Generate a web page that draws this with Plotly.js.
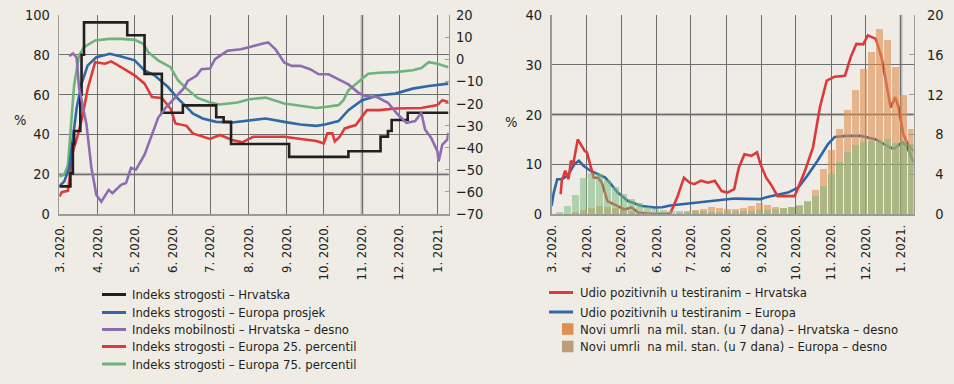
<!DOCTYPE html>
<html>
<head>
<meta charset="utf-8">
<script src="https://cdn.plot.ly/plotly-3.0.1.min.js"></script>
<style>html,body{margin:0;padding:0;background:#efece6;}#chart{width:954px;height:384px;}</style>
</head>
<body>
<div id="chart"></div>
<script>
// ---------- DATA ----------
const monthTicks = ['2020-03-01','2020-04-01','2020-05-01','2020-06-01','2020-07-01','2020-08-01','2020-09-01','2020-10-01','2020-11-01','2020-12-01','2021-01-01'];
const monthLabels = ['3. 2020.','4. 2020.','5. 2020.','6. 2020.','7. 2020.','8. 2020.','9. 2020.','10. 2020.','11. 2020.','12. 2020.','1. 2021.'];
const rightTickVals = [0, 4, 8, 12, 16, 20];
const rightTickText = ['\u20070', '\u20074', '\u20078', '12', '16', '20'];

// Left panel
const hrStrDates = ['2020-03-01','2020-03-08','2020-03-10','2020-03-12','2020-03-13','2020-03-17','2020-03-18','2020-03-19','2020-03-21','2020-04-25','2020-05-09','2020-05-23','2020-06-09','2020-07-06','2020-07-12','2020-07-18','2020-09-03','2020-10-21','2020-11-16','2020-11-22','2020-11-25','2020-12-08','2021-01-10'];
const hrStr = [13.9,13.9,20.4,35.2,41.7,41.7,60,80,96.3,89.8,70.4,50.9,54.6,48.6,46.3,35.2,28.7,31.5,38.9,41.7,47.2,50.9,50.9];

const euAvgDates = ['2020-03-01','2020-03-05','2020-03-09','2020-03-12','2020-03-15','2020-03-19','2020-03-24','2020-03-31','2020-04-11','2020-04-20','2020-05-01','2020-05-09','2020-05-17','2020-05-28','2020-06-05','2020-06-12','2020-06-17','2020-06-25','2020-07-06','2020-07-19','2020-07-27','2020-08-15','2020-08-30','2020-09-12','2020-09-25','2020-10-02','2020-10-13','2020-10-21','2020-11-01','2020-11-15','2020-11-28','2020-12-12','2020-12-25','2021-01-10'];
const euAvg = [14,16.3,23,38,53,65.5,74.7,78.8,80.5,79.2,77.2,72.2,69.7,63.8,58,53.8,50.5,48,46.3,46,46.7,48,46.3,45,44.3,45,46.7,52.2,57.2,59.7,60.5,63,64.3,65.5];

const mobDates = ['2020-03-09','2020-03-12','2020-03-15','2020-03-17','2020-03-23','2020-03-27','2020-03-31','2020-04-04','2020-04-10','2020-04-13','2020-04-20','2020-04-24','2020-04-28','2020-05-02','2020-05-09','2020-05-15','2020-05-20','2020-05-26','2020-06-03','2020-06-10','2020-06-13','2020-06-20','2020-06-24','2020-07-01','2020-07-05','2020-07-15','2020-07-26','2020-08-02','2020-08-13','2020-08-17','2020-08-23','2020-08-30','2020-09-05','2020-09-12','2020-09-20','2020-09-27','2020-10-05','2020-10-13','2020-10-21','2020-10-29','2020-11-03','2020-11-13','2020-11-22','2020-11-30','2020-12-07','2020-12-14','2020-12-19','2020-12-22','2020-12-27','2021-01-01','2021-01-02','2021-01-05','2021-01-09','2021-01-10'];
const mob = [1.4,2.6,0.8,-12.9,-29.5,-49.2,-61.4,-64.4,-59.1,-60.6,-56.8,-56,-49.2,-50,-43.2,-34.1,-26.5,-22,-17.4,-13,-9.8,-7.5,-4.5,-4.2,0,3.8,4.5,5.6,7.1,7.6,4.5,-1.5,-3,-3,-4.5,-6.8,-6.8,-9.1,-11.4,-15.1,-16.6,-17.1,-19.7,-25,-28.8,-28,-24.2,-31.8,-35.6,-41.6,-46.2,-38.6,-36.4,-33.3];

const eu25Dates = ['2020-03-01','2020-03-03','2020-03-08','2020-03-12','2020-03-16','2020-03-20','2020-03-24','2020-03-30','2020-04-07','2020-04-12','2020-04-20','2020-05-01','2020-05-09','2020-05-15','2020-05-23','2020-05-30','2020-06-03','2020-06-12','2020-06-17','2020-06-25','2020-07-01','2020-07-09','2020-07-19','2020-07-27','2020-08-05','2020-08-30','2020-09-12','2020-09-25','2020-10-01','2020-10-04','2020-10-08','2020-10-10','2020-10-14','2020-10-18','2020-10-27','2020-11-01','2020-11-05','2020-11-15','2020-11-28','2020-12-19','2021-01-01','2021-01-05','2021-01-10'];
const eu25 = [8.8,11,11.7,31.3,39.7,49.7,63,76.3,75.5,76.7,73.8,69.7,65.5,58.8,58.3,53,45.5,44.3,40.5,38.8,37.7,39.7,37.2,36,38.8,38.8,37.7,36.7,35.5,40.5,40.5,36.5,38.8,43,44.7,48.8,52.2,52.2,53,53.3,54.7,57.2,56.3];

const eu75Dates = ['2020-03-01','2020-03-05','2020-03-08','2020-03-11','2020-03-13','2020-03-17','2020-03-21','2020-03-30','2020-04-10','2020-04-20','2020-05-01','2020-05-08','2020-05-12','2020-05-20','2020-05-30','2020-06-05','2020-06-12','2020-06-21','2020-07-01','2020-07-09','2020-07-23','2020-08-02','2020-08-15','2020-08-30','2020-09-12','2020-09-25','2020-10-02','2020-10-13','2020-10-17','2020-10-21','2020-10-29','2020-11-06','2020-11-15','2020-11-28','2020-12-12','2020-12-19','2020-12-25','2021-01-01','2021-01-10'];
const eu75 = [18.8,19.7,24.7,48,64.7,79.7,83.8,87.2,88,88,87.5,85.5,81.3,77.2,73.8,67.2,63,58.3,56,55,56,57.7,58.5,55.5,54.3,53.3,53.8,54.7,57.2,62.2,66.3,70.5,71,71.3,72.2,73.3,76.3,75.5,73.8];

// Right panel
const hrPosDates = ['2020-03-09','2020-03-10','2020-03-13','2020-03-16','2020-03-18','2020-03-20','2020-03-24','2020-03-27','2020-03-30','2020-04-01','2020-04-04','2020-04-07','2020-04-11','2020-04-14','2020-04-19','2020-04-25','2020-05-04','2020-05-10','2020-05-16','2020-05-30','2020-06-13','2020-06-19','2020-06-25','2020-06-30','2020-07-04','2020-07-10','2020-07-16','2020-07-22','2020-07-28','2020-08-02','2020-08-08','2020-08-12','2020-08-17','2020-08-23','2020-08-28','2020-08-31','2020-09-05','2020-09-09','2020-09-15','2020-09-30','2020-10-09','2020-10-16','2020-10-22','2020-10-28','2020-11-04','2020-11-13','2020-11-18','2020-11-23','2020-11-29','2020-12-03','2020-12-10','2020-12-15','2020-12-20','2020-12-23','2020-12-27','2020-12-30','2021-01-03','2021-01-07','2021-01-12'];
const hrPos = [4,6.7,8.7,7,10.7,10,15,13.7,12.7,12.4,9.7,7.3,7.3,6.3,2.6,1.9,0.9,1.3,0.3,0,0.1,3.3,7.3,6.3,6,6.7,6.3,6.7,4.6,4.3,5,9.3,12,11.7,12.4,10,7.3,6,3.6,3.6,8.7,13.4,21.4,26.8,27.6,27.8,31.5,34.2,34.1,35.9,35.2,31.5,25.5,21.4,23.5,21.4,16.1,14,12.7];

const euPosDates = ['2020-03-01','2020-03-03','2020-03-06','2020-03-10','2020-03-15','2020-03-21','2020-03-25','2020-03-29','2020-04-04','2020-04-10','2020-04-17','2020-04-22','2020-04-28','2020-05-07','2020-05-19','2020-05-30','2020-06-06','2020-06-13','2020-07-10','2020-08-08','2020-08-31','2020-09-06','2020-09-24','2020-10-03','2020-10-11','2020-10-20','2020-10-29','2020-11-04','2020-11-14','2020-11-27','2020-12-10','2020-12-22','2020-12-26','2021-01-02','2021-01-06','2021-01-12'];
const euPos = [1.6,4.3,7,7,7.7,10,10.7,9.7,8.7,8,7.3,6,4.3,2.6,1.6,1.3,1.35,1.7,2.4,3.1,3,3.4,4.3,5.3,7.7,10.7,14,15.5,15.7,15.7,15,13.4,13.1,14.4,13.7,10.4];

const deathWeeks = ['2020-03-01','2020-03-08','2020-03-15','2020-03-22','2020-03-29','2020-04-05','2020-04-12','2020-04-19','2020-04-26','2020-05-03','2020-05-10','2020-05-17','2020-05-24','2020-05-31','2020-06-07','2020-06-14','2020-06-21','2020-06-28','2020-07-05','2020-07-12','2020-07-19','2020-07-26','2020-08-02','2020-08-09','2020-08-16','2020-08-23','2020-08-30','2020-09-06','2020-09-13','2020-09-20','2020-09-27','2020-10-04','2020-10-11','2020-10-18','2020-10-25','2020-11-01','2020-11-08','2020-11-15','2020-11-22','2020-11-29','2020-12-06','2020-12-13','2020-12-20','2020-12-27','2021-01-03','2021-01-10'];
const hrDeaths = [0,0,0.05,0.2,0.4,0.6,0.8,0.7,0.6,0.4,0.3,0.15,0.1,0.05,0,0.05,0.1,0.2,0.4,0.5,0.7,0.6,0.5,0.5,0.6,0.8,1.1,0.9,0.7,0.6,0.7,0.8,1.3,2.4,4.5,6.4,8.5,10.5,12.5,14.6,16.3,18.6,17.5,14.8,12.0,8.5];
const euDeaths = [0.05,0.2,0.8,1.9,3.6,4.1,4.0,3.4,2.7,2.0,1.5,1.1,0.7,0.5,0.4,0.35,0.3,0.3,0.3,0.3,0.25,0.25,0.3,0.3,0.3,0.35,0.4,0.45,0.5,0.6,0.7,0.9,1.2,1.8,2.8,4.0,5.2,6.2,6.9,7.2,7.3,7.3,7.5,7.1,7.3,7.0];

const leftNames = ['Indeks strogosti – Hrvatska','Indeks strogosti – Europa prosjek','Indeks mobilnosti – Hrvatska – desno','Indeks strogosti – Europa 25. percentil','Indeks strogosti – Europa 75. percentil'];
const rightNames = ['Udio pozitivnih u testiranim – Hrvatska','Udio pozitivnih u testiranim – Europa','Novi umrli  na mil. stan. (u 7 dana) – Hrvatska – desno','Novi umrli  na mil. stan. (u 7 dana) – Europa – desno'];

// ---------- STYLE ----------
const FONT = '"Liberation Sans Narrow", "Arial Narrow", "DejaVu Sans Condensed", sans-serif';
const TXT = '#231f20';
const BG = '#efece6';
const GRID = '#6e6e6e';
const LIGHT = '#b8b6b2';
const AXL = '#9c9a96';
const cBlack = '#231f20', cBlue = '#2f68a3', cPurple = '#8d6cb0', cRed = '#dd3b3b', cGreen = '#6db37b';
const cOrange = '#de9050', cEuBar = '#7fbb80', cEuLeg = '#bc9c7c';
const W = 954, H = 384;
const px = v => v / W, py = v => 1 - v / H;

const line = (x, y, color, xa, ya, extra) => Object.assign({
  type: 'scatter', mode: 'lines', x: x, y: y, xaxis: xa, yaxis: ya,
  line: {color: color, width: 2.6}, showlegend: false, hoverinfo: 'skip'
}, extra || {});

const WEEK = 6.2 * 86400000;
const traces = [
  {type: 'bar', x: deathWeeks, y: hrDeaths, xaxis: 'x2', yaxis: 'y4', width: WEEK, marker: {color: cOrange, line: {width: 0}}, opacity: 0.6, showlegend: false, hoverinfo: 'skip'},
  {type: 'bar', x: deathWeeks, y: euDeaths, xaxis: 'x2', yaxis: 'y4', width: WEEK, marker: {color: cEuBar, line: {width: 0}}, opacity: 0.55, showlegend: false, hoverinfo: 'skip'},
  line(euPosDates, euPos, cBlue, 'x2', 'y3'),
  line(hrPosDates, hrPos, cRed, 'x2', 'y3'),
  line(eu75Dates, eu75, cGreen, 'x', 'y'),
  line(eu25Dates, eu25, cRed, 'x', 'y'),
  line(euAvgDates, euAvg, cBlue, 'x', 'y'),
  line(mobDates, mob, cPurple, 'x', 'y2'),
  line(hrStrDates, hrStr, cBlack, 'x', 'y', {line: {color: cBlack, width: 2.6, shape: 'hv'}})
];

const yDom = [1 - 214 / H, 1 - 15 / H];
const tickFont = {family: FONT, size: 14.5, color: TXT};
const xTickFont = {family: FONT, size: 13, color: TXT};
const legFont = {family: FONT, size: 13, color: TXT};
const xCommon = {
  type: 'date', tickvals: monthTicks, ticktext: monthLabels, tickangle: -90,
  showgrid: true, gridcolor: GRID, gridwidth: 1, showline: true, linecolor: AXL, linewidth: 1.5,
  ticks: '', tickfont: xTickFont, ticklabelstandoff: 4, zeroline: false, fixedrange: true
};
const yCommon = {
  showgrid: true, gridcolor: GRID, gridwidth: 1, showline: true, linecolor: AXL, linewidth: 1.5,
  ticks: '', tickfont: tickFont, zeroline: false, ticklabelstandoff: 5, fixedrange: true
};

const shapes = [
  {type: 'line', layer: 'below', xref: 'paper', x0: 59.3 / W, x1: 448.5 / W, yref: 'y', y0: 20, y1: 20, line: {color: LIGHT, width: 3}},
  {type: 'line', layer: 'below', xref: 'x', x0: '2020-11-01', x1: '2020-11-01', yref: 'paper', y0: yDom[0], y1: yDom[1], line: {color: LIGHT, width: 3}},
  {type: 'line', layer: 'below', xref: 'paper', x0: 551.5 / W, x1: 913.5 / W, yref: 'y3', y0: 20, y1: 20, line: {color: LIGHT, width: 3}},
  {type: 'line', layer: 'below', xref: 'x2', x0: '2021-01-01', x1: '2021-01-01', yref: 'paper', y0: yDom[0], y1: yDom[1], line: {color: LIGHT, width: 3}}
];
const annotations = [
  {text: '%', xref: 'paper', yref: 'paper', x: px(20), y: py(120), xanchor: 'center', yanchor: 'middle', showarrow: false, font: tickFont},
  {text: '%', xref: 'paper', yref: 'paper', x: px(511), y: py(121.5), xanchor: 'center', yanchor: 'middle', showarrow: false, font: tickFont}
];

// manual legends
const leftColors = [cBlack, cBlue, cPurple, cRed, cGreen];
const leftRows = [294.5, 312.5, 329.5, 346.5, 364];
leftNames.forEach((n, i) => {
  shapes.push({type: 'line', layer: 'above', xref: 'paper', yref: 'paper', x0: px(102), x1: px(126), y0: py(leftRows[i]), y1: py(leftRows[i]), line: {color: leftColors[i], width: 3}});
  annotations.push({text: n, xref: 'paper', yref: 'paper', x: px(130), y: py(leftRows[i]), xanchor: 'left', yanchor: 'middle', showarrow: false, font: legFont});
});
const rightRows = [292.5, 312, 329, 346.5];
rightNames.forEach((n, i) => {
  if (i < 2) {
    shapes.push({type: 'line', layer: 'above', xref: 'paper', yref: 'paper', x0: px(549), x1: px(573), y0: py(rightRows[i]), y1: py(rightRows[i]), line: {color: [cRed, cBlue][i], width: 3}});
  } else {
    shapes.push({type: 'rect', layer: 'above', xref: 'paper', yref: 'paper', x0: px(562), x1: px(573.5), y0: py(rightRows[i] - 5.8), y1: py(rightRows[i] + 5.8), fillcolor: [cOrange, cEuLeg][i - 2], line: {width: 0}});
  }
  annotations.push({text: n, xref: 'paper', yref: 'paper', x: px(577.5), y: py(rightRows[i]), xanchor: 'left', yanchor: 'middle', showarrow: false, font: legFont});
});

const layout = {
  width: W, height: H, margin: {l: 0, r: 0, t: 0, b: 0},
  paper_bgcolor: BG, plot_bgcolor: BG, showlegend: false,
  barmode: 'overlay', bargap: 0,
  font: {family: FONT, color: TXT, size: 14},
  xaxis: Object.assign({}, xCommon, {domain: [59.3 / W, 448.5 / W], range: ['2020-03-01', '2021-01-10'], anchor: 'y'}),
  yaxis: Object.assign({}, yCommon, {domain: yDom, range: [0, 100], dtick: 20, anchor: 'x'}),
  yaxis2: Object.assign({}, yCommon, {overlaying: 'y', side: 'right', anchor: 'x', range: [-70, 20], dtick: 10, showgrid: false, ticks: 'inside', ticklen: 4, tickcolor: AXL, ticklabelstandoff: 3}),
  xaxis2: Object.assign({}, xCommon, {domain: [551.5 / W, 913.5 / W], range: ['2020-03-01', '2021-01-12'], anchor: 'y3'}),
  yaxis3: Object.assign({}, yCommon, {domain: yDom, range: [0, 40], dtick: 10, anchor: 'x2'}),
  yaxis4: Object.assign({}, yCommon, {overlaying: 'y3', side: 'right', anchor: 'x2', range: [0, 20], tickvals: rightTickVals, ticktext: rightTickText, showgrid: false, ticks: 'inside', ticklen: 5, tickcolor: AXL, ticklabelstandoff: 9}),
  shapes: shapes, annotations: annotations
};

Plotly.newPlot('chart', traces, layout, {staticPlot: true, displayModeBar: false});
</script>
</body>
</html>
